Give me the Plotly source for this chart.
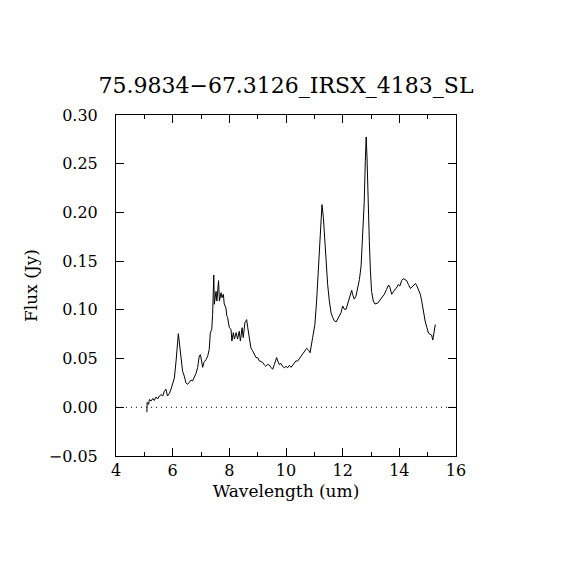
import plotly.graph_objects as go

wavelength = [5.09, 5.10, 5.15, 5.18, 5.24, 5.30, 5.35, 5.41, 5.47, 5.53, 5.59, 5.65, 5.70, 5.76, 5.82, 5.88, 5.94,
              6.00, 6.06, 6.12, 6.15, 6.20, 6.23, 6.29, 6.35, 6.41, 6.47, 6.53, 6.59, 6.65, 6.70, 6.76, 6.82, 6.88,
              6.94, 6.98, 7.03, 7.06, 7.10, 7.18, 7.24, 7.29, 7.33, 7.38, 7.41, 7.45, 7.47, 7.53, 7.56, 7.62, 7.65,
              7.71, 7.74, 7.79, 7.82, 7.88, 7.91, 7.94, 8.00, 8.06, 8.09, 8.14, 8.18, 8.24, 8.29, 8.35, 8.39, 8.45,
              8.49, 8.55, 8.59, 8.61, 8.65, 8.70, 8.76, 8.82, 8.88, 8.94, 9.00, 9.06, 9.12, 9.18, 9.24, 9.29, 9.35,
              9.41, 9.47, 9.53, 9.59, 9.67, 9.71, 9.76, 9.82, 9.88, 9.94, 10.00, 10.06, 10.12, 10.18, 10.24, 10.29,
              10.35, 10.41, 10.47, 10.53, 10.59, 10.65, 10.73, 10.80, 10.85, 10.94, 11.02, 11.08, 11.14, 11.20,
              11.24, 11.27, 11.32, 11.37, 11.41, 11.47, 11.53, 11.59, 11.65, 11.71, 11.77, 11.82, 11.88, 11.94,
              12.00, 12.06, 12.12, 12.18, 12.26, 12.32, 12.35, 12.41, 12.47, 12.53, 12.59, 12.65, 12.71, 12.76,
              12.80, 12.83, 12.86, 12.88, 12.94, 12.98, 13.02, 13.08, 13.14, 13.24, 13.32, 13.41, 13.47, 13.55,
              13.62, 13.67, 13.73, 13.80, 13.86, 13.92, 13.96, 14.02, 14.08, 14.14, 14.20, 14.26, 14.32, 14.39,
              14.45, 14.51, 14.57, 14.62, 14.68, 14.74, 14.79, 14.85, 14.91, 14.97, 15.03, 15.08, 15.14, 15.18,
              15.23, 15.27]

flux = [-0.005, 0.005, 0.003, 0.008, 0.0065, 0.009, 0.007, 0.0105, 0.0085, 0.0116, 0.013, 0.0116, 0.016, 0.0185,
        0.0116, 0.014, 0.0185, 0.0236, 0.030, 0.0475, 0.063, 0.0755, 0.068, 0.051, 0.037, 0.032, 0.025, 0.0236,
        0.026, 0.028, 0.027, 0.030, 0.0345, 0.0406, 0.0527, 0.054, 0.0475, 0.041, 0.046, 0.049, 0.053, 0.0595,
        0.0766, 0.080, 0.0955, 0.1358, 0.1057, 0.119, 0.109, 0.130, 0.109, 0.1176, 0.1125, 0.116, 0.106, 0.102,
        0.094, 0.092, 0.0817, 0.080, 0.068, 0.0766, 0.070, 0.0766, 0.070, 0.078, 0.068, 0.0817, 0.0715, 0.087,
        0.0886, 0.090, 0.0817, 0.0715, 0.061, 0.058, 0.054, 0.051, 0.051, 0.0475, 0.047, 0.046, 0.0434, 0.042,
        0.044, 0.0434, 0.041, 0.039, 0.044, 0.051, 0.0475, 0.044, 0.045, 0.042, 0.0406, 0.042, 0.0406, 0.043,
        0.041, 0.0434, 0.046, 0.0475, 0.0475, 0.050, 0.0527, 0.055, 0.058, 0.0605, 0.0585, 0.056, 0.0715, 0.085,
        0.109, 0.140, 0.181, 0.1946, 0.208, 0.1946, 0.171, 0.150, 0.126, 0.109, 0.097, 0.092, 0.0886, 0.0876,
        0.090, 0.0937, 0.097, 0.104, 0.1006, 0.1006, 0.107, 0.114, 0.120, 0.116, 0.111, 0.114, 0.121, 0.131,
        0.145, 0.175, 0.210, 0.253, 0.2775, 0.256, 0.225, 0.171, 0.140, 0.119, 0.109, 0.106, 0.107, 0.110,
        0.1125, 0.116, 0.121, 0.1255, 0.123, 0.116, 0.119, 0.121, 0.1235, 0.126, 0.1245, 0.130, 0.132, 0.131,
        0.130, 0.126, 0.122, 0.1235, 0.1255, 0.127, 0.1245, 0.120, 0.116, 0.109, 0.097, 0.0886, 0.082, 0.076,
        0.075, 0.074, 0.069, 0.080, 0.085]

title_text = "75.9834\u221267.3126_IRSX_4183_SL"
x_label = "Wavelength (um)"
y_label = "Flux (Jy)"
x_ticks = [4, 6, 8, 10, 12, 14, 16]
y_ticks = [-0.05, 0.0, 0.05, 0.10, 0.15, 0.20, 0.25, 0.30]

FONT = "DejaVu Serif"

fig = go.Figure()
fig.add_trace(go.Scatter(x=wavelength, y=flux, mode="lines",
                         line=dict(color="black", width=1), showlegend=False, hoverinfo="skip"))
fig.add_hline(y=0, line=dict(color="black", width=1, dash="1px,4px"))

axis_common = dict(showgrid=False, zeroline=False, showline=True, linecolor="black", linewidth=1,
                   mirror="allticks", ticks="inside", tickcolor="black", ticklen=8, tickwidth=1,
                   tickfont=dict(family=FONT, size=16, color="black"))

fig.update_xaxes(range=[4, 16], tickvals=x_ticks, ticktext=[str(v) for v in x_ticks],
                 minor=dict(dtick=1, ticks="inside", ticklen=4, tickcolor="black", showgrid=False),
                 ticklabelstandoff=0,
                 title=dict(text=x_label, font=dict(family=FONT, size=17, color="black"), standoff=5),
                 **axis_common)
fig.update_yaxes(range=[-0.05, 0.30], tickvals=y_ticks, tickformat=".2f",
                 ticklabelstandoff=14,
                 title=dict(text=y_label, font=dict(family=FONT, size=17, color="black"), standoff=6),
                 **axis_common)

fig.update_layout(
    width=570, height=570,
    margin=dict(l=108, r=122, t=107, b=122),
    paper_bgcolor="white", plot_bgcolor="white",
    title=dict(text=title_text, x=(285 - 7) / 570, xanchor="center", y=1 - 77 / 570, yanchor="middle",
               font=dict(family=FONT, size=22, color="black")),
)

fig.write_html("out.html")
